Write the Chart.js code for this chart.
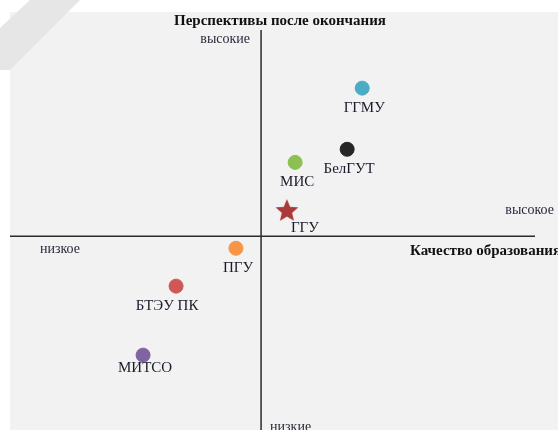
<!DOCTYPE html>
<html lang="ru">
<head>
  <meta charset="UTF-8" />
  <title>Перспективы после окончания</title>
  <script src="https://cdn.jsdelivr.net/npm/chart.js"></script>
  <style>
    body { margin: 0; background: #fff; }
    .wrap { position: relative; width: 558px; height: 430px; }
  </style>
</head>
<body>
  <div class="wrap"><canvas id="map" width="558" height="430"></canvas></div>

  <script>
    // universities and their position (quality of education, prospects after graduation)
    const names   = ['ГГМУ', 'БелГУТ', 'МИС', 'ГГУ', 'ПГУ', 'БТЭУ ПК', 'МИТСО'];
    const quality = [2.82, 2.40, 0.95, 0.72, -0.70, -2.37, -3.29];
    const prospects = [3.95, 2.32, 1.97, 0.67, -0.32, -1.33, -3.17];
    const colors  = ['#4bacc6', '#262626', '#8cc152', '#a83a3a', '#f79646', '#cf5757', '#8064a2'];
    const shapes  = ['circle', 'circle', 'circle', 'star', 'circle', 'circle', 'circle'];

    const axisTexts = {
      title: 'Перспективы после окончания',
      yHigh: 'высокие',
      yLow: 'низкие',
      xTitle: 'Качество образования',
      xHigh: 'высокое',
      xLow: 'низкое'
    };

    const font = '"Liberation Serif", "DejaVu Serif", serif';

    // filled star for the highlighted university
    function filledStar(color, r) {
      const c = document.createElement('canvas');
      c.width = c.height = r * 2 + 2;
      const g = c.getContext('2d');
      g.fillStyle = color;
      g.beginPath();
      for (let k = 0; k < 10; k++) {
        const rr = k % 2 === 0 ? r : r * 0.45;
        const a = -Math.PI / 2 + k * Math.PI / 5;
        g.lineTo(r + 1 + rr * Math.cos(a), r + 1 + rr * Math.sin(a));
      }
      g.closePath();
      g.fill();
      return c;
    }
    const pointStyles = shapes.map((s, i) => s === 'star' ? filledStar(colors[i], 12) : 'circle');

    const quadrant = {
      id: 'quadrant',
      beforeDraw(chart) {
        const { ctx } = chart;
        ctx.save();
        ctx.fillStyle = '#f2f2f2';
        ctx.fillRect(10, 12, 548, 418);
        ctx.fillStyle = '#e6e6e6';
        ctx.beginPath();
        ctx.moveTo(0, 28); ctx.lineTo(30, 0); ctx.lineTo(80, 0); ctx.lineTo(10, 70); ctx.lineTo(0, 70);
        ctx.closePath(); ctx.fill();
        ctx.restore();
      },
      afterDatasetsDraw(chart) {
        const { ctx, scales: { x, y } } = chart;
        const x0 = x.getPixelForValue(0), y0 = y.getPixelForValue(0);
        ctx.save();
        ctx.strokeStyle = '#2b2b2b';
        ctx.lineWidth = 1.5;
        ctx.beginPath();
        ctx.moveTo(x0, 30); ctx.lineTo(x0, 430);
        ctx.moveTo(10, y0); ctx.lineTo(535, y0);
        ctx.stroke();

        ctx.fillStyle = '#111';
        ctx.textBaseline = 'middle';
        ctx.font = 'bold 15px ' + font;
        ctx.textAlign = 'center';
        ctx.fillText(axisTexts.title, 280, 21);
        ctx.textAlign = 'left';
        ctx.fillText(axisTexts.xTitle, 410, y0 + 15);

        ctx.font = '14px ' + font;
        ctx.fillStyle = '#2a2a3a';
        ctx.textAlign = 'right';
        ctx.fillText(axisTexts.yHigh, x0 - 11, 39);
        ctx.fillText(axisTexts.xHigh, 554, y0 - 26);
        ctx.textAlign = 'left';
        ctx.fillText(axisTexts.yLow, x0 + 9, 427);
        ctx.fillText(axisTexts.xLow, 40, y0 + 13);

        // point labels
        ctx.font = '15px ' + font;
        ctx.fillStyle = '#1a1a2a';
        ctx.textAlign = 'center';
        chart.getDatasetMeta(0).data.forEach((pt, i) => {
          const dx = shapes[i] === 'star' ? 18 : (names[i] === 'БТЭУ ПК' ? -9 : 2);
          const dy = shapes[i] === 'star' ? 17 : (names[i] === 'МИТСО' ? 13 : 20);
          ctx.fillText(names[i], pt.x + dx, pt.y + dy);
        });
        ctx.restore();
      }
    };

    new Chart(document.getElementById('map'), {
      type: 'scatter',
      data: {
        datasets: [{
          data: quality.map((q, i) => ({ x: q, y: prospects[i] })),
          backgroundColor: colors,
          borderColor: colors,
          pointStyle: pointStyles,
          pointRadius: 7,
          pointHoverRadius: 7
        }]
      },
      options: {
        responsive: false,
        animation: false,
        layout: { padding: { left: 10, right: 10, top: 30, bottom: 10 } },
        scales: {
          x: { type: 'linear', min: -7, max: 8, display: false },
          y: { type: 'linear', min: -4.9, max: 5.5, display: false }
        },
        plugins: { legend: { display: false }, tooltip: { enabled: false } }
      },
      plugins: [quadrant]
    });
  </script>
</body>
</html>
